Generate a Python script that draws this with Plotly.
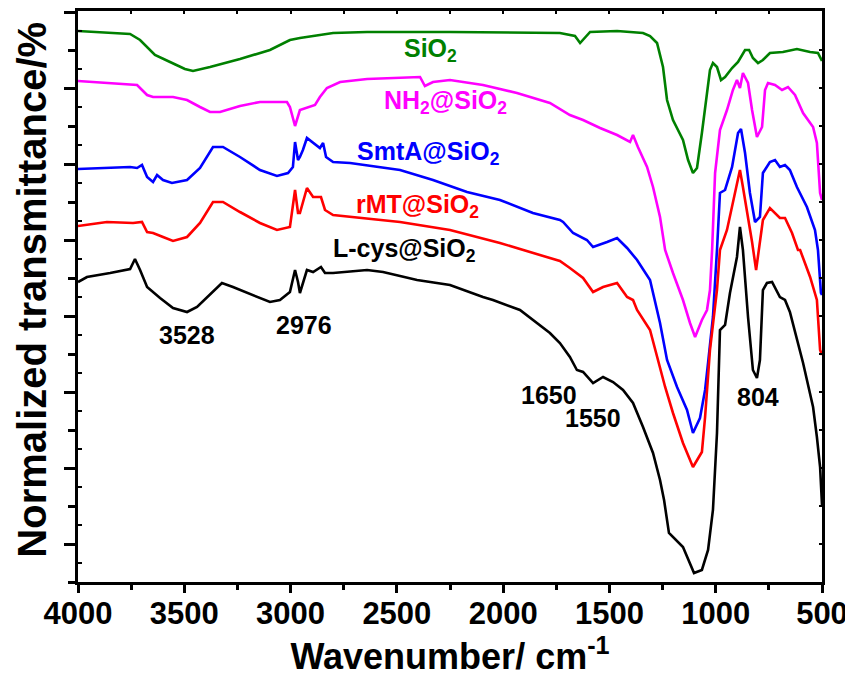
import plotly.graph_objects as go

# ---- data (wavenumber in cm-1, normalized transmittance in arbitrary offset units) ----
sio2_wn = [4000, 3755, 3708, 3638, 3567, 3497, 3459, 3379, 3238, 3097, 3003, 2956, 2800, 2640, 2250,
           1733, 1662, 1638, 1591, 1464, 1342, 1309, 1276, 1248, 1229, 1201, 1154, 1130, 1107, 1088,
           1065, 1041, 1027, 1013, 994, 975, 956, 923, 895, 862, 843, 825, 801, 778, 745, 684, 618,
           556, 519, 500]
sio2_t = [55.1, 54.8, 54.2, 52.7, 52.0, 51.3, 51.1, 51.5, 52.3, 53.2, 54.2, 54.4, 54.9, 55.0, 55.0,
          54.9, 54.6, 53.9, 55.0, 55.1, 54.9, 54.6, 53.9, 51.5, 48.2, 46.2, 44.2, 42.2, 40.9, 41.4,
          44.9, 48.9, 51.2, 51.9, 51.5, 50.2, 50.5, 51.4, 52.0, 53.2, 53.2, 52.4, 51.9, 52.2, 52.9,
          53.0, 53.3, 53.0, 52.9, 52.1]

nh2_wn = [4000, 3722, 3675, 3647, 3553, 3487, 3426, 3379, 3332, 3238, 3144, 3017, 3003, 2979, 2956,
          2909, 2885, 2862, 2829, 2767, 2640, 2391, 2368, 2330, 2250, 2095, 1935, 1780, 1686, 1624,
          1544, 1464, 1403, 1389, 1366, 1323, 1295, 1262, 1238, 1201, 1154, 1121, 1097, 1065, 1041,
          1027, 1017, 1003, 980, 947, 919, 900, 886, 872, 848, 829, 806, 782, 768, 754, 721, 688,
          660, 627, 589, 542, 524, 509, 500]
nh2_t = [50.1, 49.7, 48.7, 48.5, 48.5, 48.2, 47.5, 47.0, 47.0, 47.6, 48.0, 48.0, 47.5, 45.6, 47.2,
         47.5, 47.7, 48.5, 49.4, 50.0, 50.3, 50.5, 49.6, 50.0, 50.2, 49.7, 48.9, 47.9, 46.7, 46.2,
         45.4, 44.7, 44.0, 44.7, 43.5, 41.5, 39.5, 36.5, 33.2, 30.9, 28.2, 25.9, 24.5, 26.2, 27.2,
         29.2, 33.2, 40.9, 45.2, 47.2, 49.2, 50.2, 49.4, 50.9, 49.9, 47.2, 44.5, 45.5, 49.2, 49.9,
         49.7, 49.2, 49.5, 48.7, 46.9, 45.5, 43.9, 38.9, 38.2]

smta_wn = [4000, 3755, 3722, 3699, 3675, 3647, 3628, 3600, 3558, 3487, 3426, 3365, 3318, 3238, 3144,
           3064, 3012, 2989, 2979, 2965, 2956, 2942, 2923, 2894, 2862, 2847, 2833, 2800, 2720, 2485,
           2330, 2170, 2015, 1860, 1733, 1718, 1671, 1606, 1577, 1511, 1464, 1417, 1370, 1309, 1262,
           1229, 1182, 1135, 1107, 1074, 1050, 1036, 1013, 994, 980, 956, 923, 895, 881, 862, 839,
           815, 792, 778, 745, 721, 698, 674, 651, 618, 571, 533, 519, 505, 500]
smta_t = [41.3, 41.5, 41.4, 41.7, 40.5, 40.0, 40.7, 40.2, 39.9, 40.2, 41.4, 43.5, 43.5, 42.5, 41.2,
          40.6, 40.9, 41.5, 44.0, 42.2, 42.5, 43.2, 44.4, 43.9, 43.4, 43.9, 42.5, 42.0, 41.9, 41.2,
          40.2, 39.0, 38.2, 36.9, 36.2, 36.0, 34.9, 34.2, 33.5, 34.0, 34.4, 33.4, 32.2, 30.2, 25.9,
          22.2, 19.5, 17.2, 14.9, 16.4, 19.2, 21.9, 26.5, 33.2, 38.9, 39.2, 41.5, 44.9, 45.3, 42.9,
          38.9, 36.0, 36.5, 40.9, 42.0, 42.2, 41.5, 41.7, 41.2, 39.5, 37.5, 35.2, 33.2, 28.9, 28.7]

rmt_wn = [4000, 3864, 3741, 3699, 3675, 3647, 3600, 3553, 3487, 3426, 3365, 3318, 3238, 3144, 3064,
          3003, 2979, 2965, 2956, 2923, 2894, 2857, 2838, 2800, 2485, 2250, 2015, 1780, 1733, 1686,
          1624, 1577, 1530, 1464, 1417, 1389, 1370, 1309, 1276, 1238, 1201, 1154, 1107, 1065, 1050,
          1027, 994, 980, 947, 900, 886, 872, 839, 829, 810, 801, 778, 745, 721, 698, 674, 641, 613,
          603, 556, 524, 509, 500]
rmt_t = [35.6, 36.0, 35.9, 36.0, 35.0, 34.9, 34.5, 34.1, 34.5, 35.9, 38.0, 38.0, 37.0, 35.9, 35.2,
         35.5, 39.2, 36.9, 36.9, 39.4, 38.5, 38.5, 37.2, 36.7, 36.0, 35.2, 33.9, 32.4, 32.1, 31.4,
         30.4, 29.0, 29.5, 29.9, 28.5, 28.2, 27.2, 25.2, 22.5, 19.5, 16.9, 13.9, 11.5, 13.0, 16.5,
         23.2, 29.2, 33.2, 35.2, 39.9, 41.2, 39.5, 35.5, 34.0, 31.2, 32.5, 36.2, 37.4, 36.9, 36.4,
         36.4, 34.9, 33.2, 33.2, 30.5, 28.2, 23.2, 22.7]

lcys_wn = [4000, 3958, 3849, 3755, 3732, 3708, 3675, 3614, 3553, 3487, 3440, 3393, 3323, 3271, 3177,
           3097, 3050, 3003, 2979, 2965, 2956, 2923, 2894, 2857, 2838, 2800, 2640, 2565, 2405, 2250,
           2095, 2048, 1921, 1780, 1733, 1686, 1653, 1624, 1577, 1530, 1483, 1436, 1389, 1342, 1295,
           1262, 1243, 1220, 1154, 1102, 1065, 1036, 1013, 994, 980, 956, 933, 900, 886, 872, 848,
           825, 806, 792, 778, 759, 735, 698, 674, 651, 589, 542, 524, 509, 500]
lcys_t = [30.0, 30.5, 30.9, 31.3, 32.3, 31.2, 29.5, 28.4, 27.4, 27.0, 27.5, 28.5, 29.9, 29.5, 28.7,
          28.0, 28.2, 29.0, 31.2, 30.0, 28.9, 31.2, 31.0, 31.5, 30.9, 30.9, 31.2, 31.0, 30.2, 29.7,
          28.5, 28.2, 27.2, 24.9, 23.9, 22.5, 21.2, 21.0, 19.9, 20.5, 20.0, 19.2, 17.9, 15.5, 12.9,
          10.2, 8.2, 4.9, 3.5, 0.9, 1.2, 3.2, 7.2, 14.9, 25.2, 25.7, 28.9, 32.5, 35.5, 33.2, 26.5,
          21.2, 20.4, 22.2, 29.2, 29.9, 30.0, 28.5, 28.2, 27.0, 21.9, 17.5, 14.5, 11.5, 7.7]

series = [
    ("SiO<sub>2</sub>", sio2_wn, sio2_t, "#008000"),
    ("NH<sub>2</sub>@SiO<sub>2</sub>", nh2_wn, nh2_t, "#FF00FF"),
    ("SmtA@SiO<sub>2</sub>", smta_wn, smta_t, "#0000FF"),
    ("rMT@SiO<sub>2</sub>", rmt_wn, rmt_t, "#FF0000"),
    ("L-cys@SiO<sub>2</sub>", lcys_wn, lcys_t, "#000000"),
]

# series label positions (wavenumber, transmittance)
label_wn = [2344, 2269, 2349, 2401, 2462]
label_t = [53.2, 48.0, 42.9, 37.6, 33.2]

# peak annotations
peak_text = ["3528", "2976", "1650", "1550", "804"]
peak_wn = [3487, 2937, 1784, 1577, 801]
peak_t = [24.7, 25.7, 18.7, 16.4, 18.5]

xticks = [4000, 3500, 3000, 2500, 2000, 1500, 1000, 500]
y_range = [0, 57.1]

FONT = "Arial, Liberation Sans, sans-serif"

fig = go.Figure()
for name, wn, t, col in series:
    fig.add_trace(go.Scatter(x=wn, y=t, mode="lines", name=name,
                             line=dict(color=col, width=2.6), showlegend=False))
# helper empty traces so the extra tick-only axes are drawn
fig.add_trace(go.Scatter(x=[], y=[], xaxis="x", yaxis="y2", showlegend=False, hoverinfo="skip"))
fig.add_trace(go.Scatter(x=[], y=[], xaxis="x", yaxis="y3", showlegend=False, hoverinfo="skip"))
fig.add_trace(go.Scatter(x=[], y=[], xaxis="x2", yaxis="y", showlegend=False, hoverinfo="skip"))

for (name, wn, t, col), lx, ly in zip(series, label_wn, label_t):
    fig.add_annotation(x=lx, y=ly, text="<b>" + name + "</b>", showarrow=False,
                       font=dict(family=FONT, size=25, color=col))
for txt, px, py in zip(peak_text, peak_wn, peak_t):
    fig.add_annotation(x=px, y=py, text="<b>" + txt + "</b>", showarrow=False,
                       font=dict(family=FONT, size=25, color="black"))

# y-axis title
fig.add_annotation(xref="paper", yref="paper", x=0, y=0.512, xanchor="center", yanchor="middle",
                   xshift=-46, textangle=-90, showarrow=False, borderpad=0,
                   text="<b>Normalized transmittance/%</b>",
                   font=dict(family=FONT, size=40, color="black"))

fig.update_layout(
    width=845, height=669,
    margin=dict(l=70, r=31, t=3, b=95, autoexpand=False),
    paper_bgcolor="white", plot_bgcolor="white",
    font=dict(family=FONT, color="black"),
    xaxis=dict(range=[4000, 500], tickmode="array", tickvals=xticks,
               ticktext=["<b>%d</b>" % v for v in xticks],
               tickfont=dict(size=31, family=FONT), ticklabelstandoff=-6,
               ticks="outside", ticklen=8, tickwidth=2.5, tickcolor="black",
               minor=dict(dtick=250, tick0=0, ticks="outside", ticklen=5, tickwidth=2.5, tickcolor="black"),
               showline=True, linewidth=3, linecolor="black", mirror=True,
               showgrid=False, zeroline=False,
               title=dict(text="<b>Wavenumber/ cm<sup>-1</sup></b>", font=dict(size=36, family=FONT), standoff=10)),
    xaxis2=dict(range=[4000, 500], overlaying="x", side="top", tickmode="linear", tick0=0, dtick=250,
                ticks="inside", ticklen=3, tickwidth=2, tickcolor="black", showticklabels=False,
                showline=False, showgrid=False, zeroline=False),
    yaxis=dict(range=y_range, tickmode="linear", tick0=3.8, dtick=7.6, showticklabels=False,
               ticks="outside", ticklen=11, tickwidth=2.5, tickcolor="black",
               minor=dict(tick0=0, dtick=3.8, ticks="outside", ticklen=7, tickwidth=2.5, tickcolor="black"),
               showline=True, linewidth=3, linecolor="black", mirror=True,
               showgrid=False, zeroline=False),
    yaxis2=dict(range=y_range, overlaying="y", side="left", tickmode="linear", tick0=1.9, dtick=3.8,
                ticks="inside", ticklen=4, tickwidth=2, tickcolor="black", showticklabels=False,
                showline=False, showgrid=False, zeroline=False),
    yaxis3=dict(range=y_range, overlaying="y", side="right", tickmode="linear", tick0=0, dtick=3.8,
                ticks="inside", ticklen=3, tickwidth=2, tickcolor="black", showticklabels=False,
                showline=False, showgrid=False, zeroline=False),
)

fig.write_html("out.html")
